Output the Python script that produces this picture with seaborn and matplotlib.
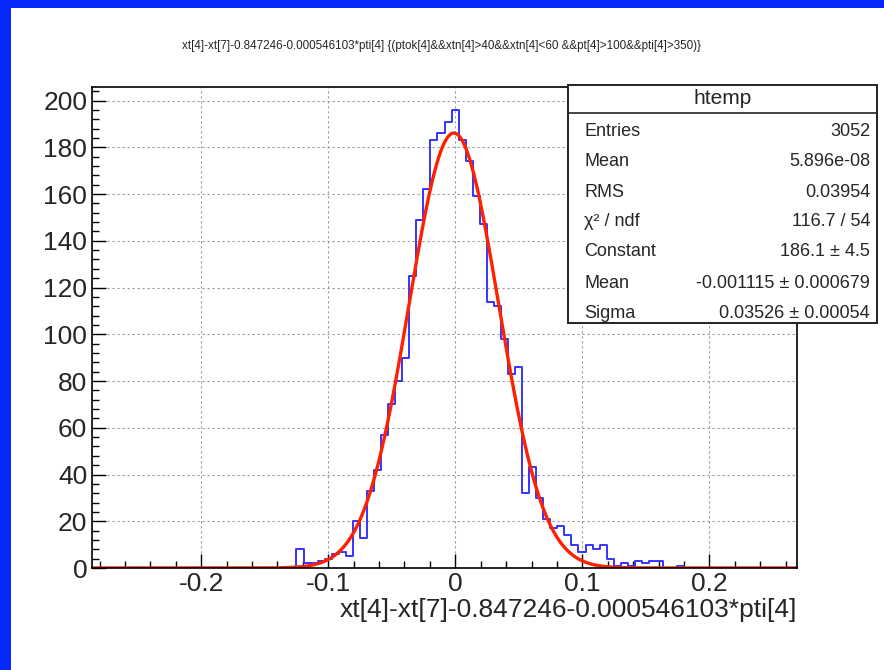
import numpy as np
import pandas as pd
import matplotlib
matplotlib.use('Agg')
import matplotlib.pyplot as plt
from matplotlib.patches import Rectangle
from matplotlib.lines import Line2D
from matplotlib.ticker import MultipleLocator, FuncFormatter
import seaborn as sns

# htemp: 100 bins between x_min and x_max
x_min = -0.286
x_max = 0.269
n_bins = 100
y_max = 205.8

counts = [0] * 29 + [
    8, 2, 2, 3, 4, 6, 7, 5, 20, 13,            # bins 29-38
    33, 42, 57, 70, 80, 90, 125, 149, 162, 183,  # bins 39-48
    186, 191, 196, 183, 174, 159, 147, 114, 112, 98,  # bins 49-58
    83, 86, 32, 43, 30, 21, 17, 18, 14, 10,    # bins 59-68
    7, 10, 8, 10, 4, 1, 2, 1, 3, 2,            # bins 69-78
    3, 3, 0, 0, 1,                             # bins 79-83
] + [0] * 16

# gaus fit parameters (from the stats box)
fit_constant = 186.1
fit_mean = -0.001115
fit_sigma = 0.03526

title = ("xt[4]-xt[7]-0.847246-0.000546103*pti[4] {(ptok[4]&&xtn[4]>40&&xtn[4]<60 "
         "&&pt[4]>100&&pti[4]>350)}")
x_label = "xt[4]-xt[7]-0.847246-0.000546103*pti[4]"
stats_title = "htemp"
stats_labels = ["Entries", "Mean", "RMS", "\u03c7\u00b2 / ndf", "Constant", "Mean", "Sigma"]
stats_values = ["3052", "5.896e-08", "0.03954", "116.7 / 54",
                "186.1 \u00b1 4.5", "-0.001115 \u00b1 0.000679", "0.03526 \u00b1 0.00054"]

sns.set_theme(style="white")
plt.rcParams['font.family'] = ['Liberation Sans', 'DejaVu Sans']
plt.rcParams['axes.unicode_minus'] = False

W, H = 884, 670
fig = plt.figure(figsize=(W / 100, H / 100), dpi=100)
fig.patch.set_facecolor('white')


def fx(px):
    return px / W


def fy(py):
    return 1 - py / H


# blue canvas border (left and top)
border_col = '#0628fb'
fig.patches.append(Rectangle((0, 0), fx(11), 1, transform=fig.transFigure,
                             facecolor=border_col, edgecolor='none', zorder=0))
fig.patches.append(Rectangle((0, fy(8)), 1, 1 - fy(8), transform=fig.transFigure,
                             facecolor=border_col, edgecolor='none', zorder=0))

ax = fig.add_axes([fx(92), fy(568), fx(797 - 92), (568 - 87) / H])

edges = np.linspace(x_min, x_max, n_bins + 1)
centers = (edges[:-1] + edges[1:]) / 2
hist_df = pd.DataFrame({'x': centers, 'n': counts})
sns.histplot(data=hist_df, x='x', weights='n', bins=edges.tolist(), element='step',
             fill=False, color='#3535ff', linewidth=1.4, ax=ax)

xf = np.linspace(x_min, x_max, 800)
fit_df = pd.DataFrame({'x': xf,
                       'y': fit_constant * np.exp(-0.5 * ((xf - fit_mean) / fit_sigma) ** 2)})
sns.lineplot(data=fit_df, x='x', y='y', color='#ff2000', linewidth=2.4, ax=ax)

ax.set_xlim(x_min, x_max)
ax.set_ylim(0, y_max)
ax.xaxis.set_major_locator(MultipleLocator(0.1))
ax.xaxis.set_minor_locator(MultipleLocator(0.02))
ax.yaxis.set_major_locator(MultipleLocator(20))
ax.yaxis.set_minor_locator(MultipleLocator(4))
ax.xaxis.set_major_formatter(FuncFormatter(lambda v, p: '%g' % round(v, 3)))
ax.yaxis.set_major_formatter(FuncFormatter(lambda v, p: '%d' % round(v)))
ax.tick_params(which='both', direction='in', top=False, right=False,
               bottom=True, left=True, color='black', labelsize=19)
ax.tick_params(which='major', length=10, width=1)
ax.tick_params(which='minor', length=5, width=1)
ax.tick_params(axis='x', which='major', pad=3)
ax.grid(True, which='major', linestyle=(0, (2, 2.5)), color='#999999', linewidth=0.8)
for s in ax.spines.values():
    s.set_color('black')
    s.set_linewidth(1.2)

ax.set_ylabel('')
ax.set_xlabel(x_label, loc='right', fontsize=19, labelpad=1)

fig.text(fx(442), fy(46), title, fontsize=8.4, ha='center', va='center')

# stats box
bx0, bx1, by0, by1 = 568, 877, 85, 323
fig.patches.append(Rectangle((fx(bx0), fy(by1)), fx(bx1 - bx0), (by1 - by0) / H,
                             transform=fig.transFigure, facecolor='white',
                             edgecolor='#222222', linewidth=1.4, zorder=5))
fig.lines.append(Line2D([fx(bx0), fx(bx1)], [fy(113), fy(113)], transform=fig.transFigure,
                        color='#222222', linewidth=1.2, zorder=6))
fig.text(fx((bx0 + bx1) / 2), fy(99), stats_title, fontsize=15, ha='center', va='center', zorder=7)
row_y = [131, 161, 192, 222, 252, 283, 313]
for lab, val, yy in zip(stats_labels, stats_values, row_y):
    fig.text(fx(584), fy(yy), lab, fontsize=13, ha='left', va='center', zorder=7)
    fig.text(fx(870), fy(yy), val, fontsize=13, ha='right', va='center', zorder=7)

fig.savefig('out.png', dpi=100)
